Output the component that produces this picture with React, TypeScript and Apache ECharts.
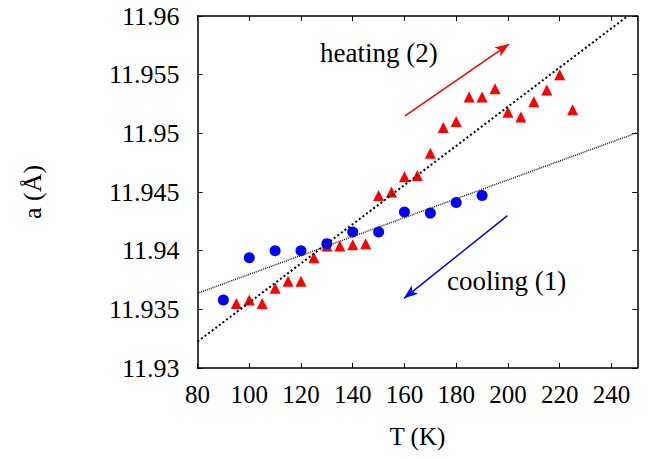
import React, { useEffect, useRef } from "react";
import * as echarts from "echarts";

const coolingT = [90, 100, 110, 120, 130, 140, 150, 160, 170, 180, 190];
const coolingA = [11.9358, 11.9394, 11.94, 11.94, 11.9406, 11.9416, 11.9416, 11.9433, 11.9432, 11.9441, 11.9447];

const heatingT = [95, 100, 105, 110, 115, 120, 125, 130, 135, 140, 145, 150, 155, 160, 165, 170, 175, 180, 185, 190, 195, 200, 205, 210, 215, 220, 225];
const heatingA = [11.9355, 11.9358, 11.9355, 11.9368, 11.9374, 11.9374, 11.9394, 11.9404, 11.9404, 11.9405, 11.9406, 11.9447, 11.945, 11.9463, 11.9464, 11.9483, 11.9505, 11.951, 11.9531, 11.9531, 11.9538, 11.9518, 11.9514, 11.9527, 11.9537, 11.955, 11.952];

const heatingFit = [[80, 11.93224], [246.3, 11.96]];
const coolingFit = [[80, 11.93637], [250, 11.95006]];

const heatingArrow = [[160.2, 11.95148], [200.4, 11.95761]];
const coolingArrow = [[199.8, 11.94298], [159.8, 11.93594]];

const xTicks = { min: 80, max: 250, interval: 20 };
const yTicks = { min: 11.93, max: 11.96, interval: 0.005 };

const FONT = "Liberation Serif";

export default function App() {
  const ref = useRef<HTMLDivElement>(null);
  useEffect(() => {
    document.body.style.margin = "0";
    const chart = echarts.init(ref.current!, null, { renderer: "svg" });
    const axisCommon = {
      axisLine: { show: true, lineStyle: { color: "#000", width: 1.5 } },
      axisTick: { show: true, inside: true, length: 5, lineStyle: { color: "#000", width: 1 } },
      splitLine: { show: false },
    };
    chart.setOption({
      animation: false,
      grid: { left: 197.5, right: 14.7, top: 16, bottom: 91, containLabel: false },
      xAxis: [
        {
          type: "value",
          ...xTicks,
          ...axisCommon,
          name: "T (K)",
          nameLocation: "middle",
          nameGap: 56,
          nameTextStyle: { fontFamily: FONT, fontSize: 25, color: "#000" },
          axisLabel: { fontFamily: FONT, fontSize: 25, color: "#000", margin: 14, showMaxLabel: false },
        },
        {
          type: "value",
          position: "top",
          ...xTicks,
          ...axisCommon,
          axisLabel: { show: false },
        },
      ],
      yAxis: [
        {
          type: "value",
          ...yTicks,
          ...axisCommon,
          name: "a (Å)",
          nameLocation: "middle",
          nameGap: 152,
          nameTextStyle: { fontFamily: FONT, fontSize: 26, color: "#000" },
          axisLabel: {
            fontFamily: FONT,
            fontSize: 26,
            color: "#000",
            margin: 18,
            formatter: (v: number) => parseFloat(v.toFixed(3)).toString(),
          },
        },
        {
          type: "value",
          position: "right",
          ...yTicks,
          ...axisCommon,
          axisLabel: { show: false },
        },
      ],
      series: [
        {
          type: "line",
          data: coolingFit,
          symbol: "none",
          lineStyle: { color: "#222", width: 1.5, type: [1, 1] },
          silent: true,
        },
        {
          type: "line",
          data: heatingFit,
          symbol: "none",
          lineStyle: { color: "#000", width: 2, type: [2, 2.5] },
          silent: true,
        },
        {
          type: "scatter",
          name: "heating",
          symbol: "triangle",
          symbolSize: 11,
          itemStyle: { color: "#ff0000", opacity: 1 },
          data: heatingT.map((t, i) => [t, heatingA[i]]),
        },
        {
          type: "scatter",
          name: "cooling",
          symbol: "circle",
          symbolSize: 11,
          itemStyle: { color: "#0000ff", opacity: 1 },
          data: coolingT.map((t, i) => [t, coolingA[i]]),
        },
        {
          type: "line",
          data: [],
          markLine: {
            silent: true,
            symbol: ["none", "arrow"],
            symbolSize: [8, 14],
            label: { show: false },
            lineStyle: { type: "solid", width: 1.5 },
            data: [
              [
                { coord: heatingArrow[0], lineStyle: { color: "#ff0000" } },
                { coord: heatingArrow[1] },
              ],
              [
                { coord: coolingArrow[0], lineStyle: { color: "#0000ff" } },
                { coord: coolingArrow[1] },
              ],
            ],
          },
        },
      ],
      graphic: [
        {
          type: "text",
          x: 320,
          y: 52.5,
          style: { text: "heating (2)", fontFamily: FONT, fontSize: 27, fill: "#000", verticalAlign: "middle" },
        },
        {
          type: "text",
          x: 447,
          y: 281,
          style: { text: "cooling (1)", fontFamily: FONT, fontSize: 27, fill: "#000", verticalAlign: "middle" },
        },
      ],
    });
    return () => chart.dispose();
  }, []);
  return <div ref={ref} style={{ width: 652, height: 459 }} />;
}
